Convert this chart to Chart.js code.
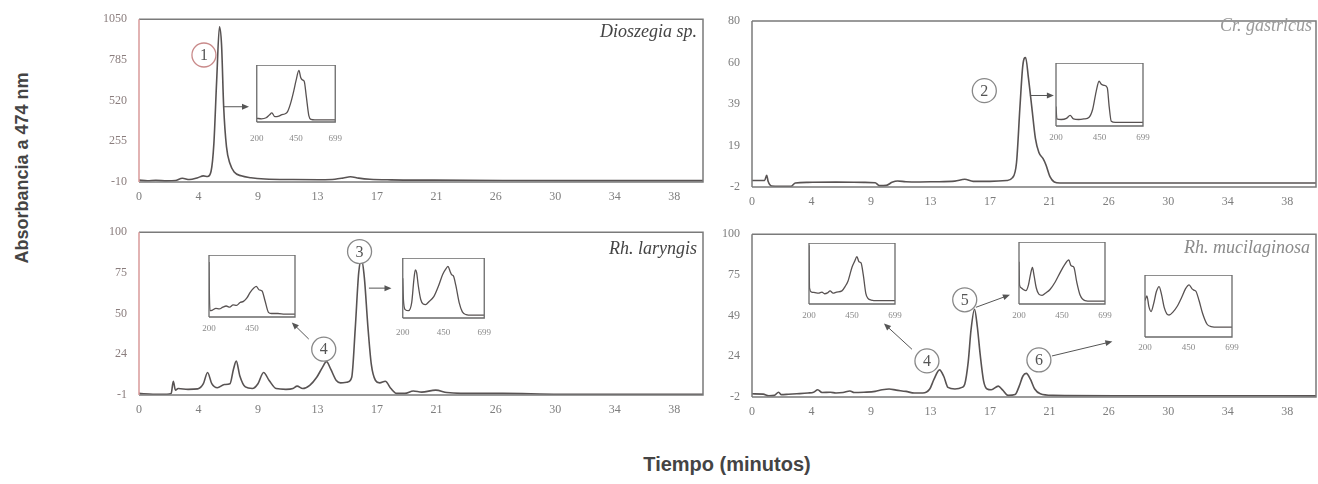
<!DOCTYPE html>
<html>
<head>
<meta charset="utf-8">
<script src="https://cdn.jsdelivr.net/npm/chart.js@4.4.1/dist/chart.umd.min.js"></script>
<style>
  html, body { margin: 0; padding: 0; background: #fff; }
  #fig { position: relative; width: 1318px; height: 484px; overflow: hidden; background: #fff; }
  #fig canvas { position: absolute; display: block; }
  .sp { position: absolute; font-family: "Liberation Serif", serif; font-style: italic; font-size: 18px; line-height: 18px; white-space: nowrap; }
  .ttl { position: absolute; font-family: "Liberation Sans", Arial, sans-serif; font-weight: bold; color: #444; white-space: nowrap; text-align: center; }
</style>
</head>
<body>
<div id="fig">
  <canvas id="p1" width="626" height="215" style="left:84px;top:0px"></canvas>
  <canvas id="p2" width="621" height="220" style="left:697px;top:0px"></canvas>
  <canvas id="p3" width="626" height="215" style="left:84px;top:213px"></canvas>
  <canvas id="p4" width="621" height="215" style="left:697px;top:215px"></canvas>

  <div class="sp" style="right:621px;top:22px;color:#444">Dioszegia sp.</div>
  <div class="sp" style="right:6px;top:16px;color:#9a9a9a">Cr. gastricus</div>
  <div class="sp" style="right:621px;top:239px;color:#444">Rh. laryngis</div>
  <div class="sp" style="right:8px;top:238px;color:#8a8a8a">Rh. mucilaginosa</div>

  <div class="ttl" style="left:-108px;top:158px;width:260px;height:20px;font-size:18px;line-height:20px;transform:rotate(-90deg)">Absorbancia a 474 nm</div>
  <div class="ttl" style="left:577px;top:452px;width:300px;font-size:20px;line-height:24px">Tiempo (minutos)</div>
</div>

<script>
// ---- time axis (minutes) ----
const X_MAX = 40.3;
const timeTicks = [0, 4.25, 8.5, 12.75, 17, 21.25, 25.5, 29.75, 34, 38.25];
const timeTickLabels = ['0', '4', '9', '13', '17', '21', '26', '30', '34', '38'];

// ---- Dioszegia sp. ----
const dioTime = [0,0.6,1.2,2,2.6,3.1,3.6,4.2,4.6,4.9,5.15,5.35,5.55,5.75,5.9,6.05,6.25,6.5,6.8,7.3,8,9,11,13,14,14.6,15.1,15.7,16.5,18,21,26,32,40.3];
const dioAbs  = [2,-2,1,-3,0,14,6,18,30,26,60,240,650,1000,880,480,220,110,55,30,18,10,6,5,8,16,24,15,8,4,2,0,-1,-1];
const dioYTicks = [-10, 255, 520, 785, 1050];
const dioYLabels = ['-10', '255', '520', '785', '1050'];
const dioCircles = [['1', 4.64, 817]];
const dioArrows = [[6.05, 480, 7.86, 480]];

// ---- Cr. gastricus ----
const cryTime = [0,0.9,1.05,1.15,1.4,2,2.8,3.1,4,6,8,8.8,9.1,9.6,10,10.4,11,12,13,14.5,15.2,15.8,17,18.2,18.6,18.9,19.15,19.35,19.55,19.75,20,20.25,20.5,20.8,21,21.3,21.6,22,26,32,40.3];
const cryAbs  = [1.2,1.2,3.8,0.8,-1.5,-1.6,-1.6,0,0.3,0.4,0.3,0.1,-1.3,-1.2,0.3,1,0.6,0.5,0.6,0.9,1.8,0.8,0.8,1.2,2.5,10,38,58,62,52,37,22,15,12,9,3,0.5,0,0,0,0];
const cryYTicks = [-2, 18.5, 39, 59.5, 80];
const cryYLabels = ['-2', '19', '39', '60', '80'];
const cryCircles = [['2', 16.6, 45.6]];
const cryArrows = [[19.86, 43.2, 21.57, 43.2]];

// ---- Rh. laryngis ----
const larTime = [0,1,2,2.3,2.45,2.6,2.8,3.5,4.2,4.6,4.9,5.2,5.6,6.1,6.5,6.75,6.95,7.2,7.6,8.1,8.5,8.9,9.3,9.8,10.5,11,11.3,11.7,12.2,12.7,13.1,13.4,13.7,14.1,14.4,14.9,15.2,15.45,15.7,15.9,16.1,16.35,16.6,16.9,17.2,17.6,18,18.4,19,19.6,20.2,21.2,22,23,26,30,34,40.3];
const larAbs  = [0,-0.5,-0.5,0,7.5,2,3,2.5,2.8,6,13,6,3.5,5.5,6,15,20,11,4,3,6,13,8,3,2.5,3,4.5,3,5,10,16,19.7,15,8,6.5,7,10,40,75,83,72,42,18,8,6.5,7.5,3,0,0,1.5,0.8,2,0.5,0,0,-0.5,-0.5,-0.5];
const larYTicks = [-1, 24.25, 49.5, 74.75, 100];
const larYLabels = ['-1', '24', '50', '75', '100'];
const larCircles = [['3', 15.76, 88], ['4', 13.2, 27.4]];
const larArrows = [[12.13, 33.7, 10.92, 44], [16.43, 65.3, 18.04, 65.3]];

// ---- Rh. mucilaginosa ----
const mucTime = [0,0.8,1.2,1.6,1.9,2.1,2.6,3.2,4,4.4,4.7,5,5.6,6,6.5,7,7.3,8,8.8,9.3,9.8,10.3,11,11.6,12.2,12.7,13,13.4,13.7,14,14.5,15,15.2,15.45,15.65,15.9,16.1,16.3,16.55,16.8,17.1,17.6,17.9,18.3,18.8,19.1,19.35,19.6,19.9,20.2,20.6,21.5,26,32,40.3];
const mucAbs  = [0,-0.2,-1.2,-1,1,-0.5,-0.3,0,0.5,1,2.5,0.8,1,0.5,0.8,1.8,0.8,1,1.5,2.5,3,2.3,1.5,0.5,0.5,3,9,15,11,4,3,4,6,20,40,53,42,25,8,3,2.5,4.8,2.5,-1,-0.5,5,11,12.8,9,3,0,-1,-1.2,-1.2,-1.3];
const mucYTicks = [-2, 23.5, 49, 74.5, 100];
const mucYLabels = ['-2', '24', '49', '75', '100'];
const mucCircles = [['4', 12.5, 20.6], ['5', 15.2, 58.9], ['6', 20.5, 21.2]];
const mucArrows = [[11.43, 27.9, 9.43, 44], [16.0, 54.2, 18.43, 62], [21.43, 23.7, 25.75, 32.8]];

// ---- UV-vis spectra in the insets (nm, relative absorbance) ----
const specTicks = [200, 450, 699];
const spec1Wl = [200,230,260,280,296,315,340,360,377,395,416,435,450,468,480,490,502,515,531,545,570,620,699];
const spec1Ab = [4,3,5,10,14,7,8,11,12,16,33,55,75,94,80,76,73,45,9,2,1,1,1];
const spec2Wl = [200,205,230,260,281,300,330,360,390,410,430,447,460,475,494,505,517,540,600,699];
const spec2Ab = [30,9,8,10,15,9,8,9,12,25,55,73,68,66,62,30,5,3,3,3];
const spec3aWl = [200,202,206,220,240,260,280,300,320,340,360,380,400,420,440,460,474,490,508,525,545,562,600,640,699];
const spec3aAb = [92,40,8,9,12,11,14,16,14,18,17,22,24,30,40,47,50,44,42,25,5,3,3,2,2];
const spec3bWl = [200,204,215,235,255,268,277,285,295,310,325,340,360,390,420,445,465,477,490,500,510,525,545,565,588,620,699];
const spec3bAb = [68,30,12,10,25,65,83,78,55,30,22,21,26,35,55,75,85,89,80,74,72,55,25,8,3,2,2];
const spec4aWl = [200,203,215,235,255,275,290,310,322,340,360,391,410,426,450,465,478,490,502,515,530,542,560,600,699];
const spec4aAb = [100,25,18,17,16,18,15,17,20,16,18,20,28,37,62,72,80,71,69,48,15,7,4,3,3];
const spec4bWl = [200,203,212,225,240,255,268,278,288,300,315,334,355,380,410,440,465,489,500,510,519,535,555,583,620,699];
const spec4bAb = [70,30,25,22,20,30,50,60,45,25,14,12,16,22,35,52,65,73,64,62,60,35,12,3,2,2];
const spec4cWl = [200,211,222,235,250,265,281,295,310,325,338,360,385,410,432,453,470,480,492,510,530,556,579,620,699];
const spec4cAb = [60,68,50,41,55,75,84,70,48,37,35,40,50,65,80,87,80,78,76,60,38,19,15,14,14];

const SERIF = '"Liberation Serif", "Times New Roman", serif';
const TRACE = '#585353';
const TICK = '#7d7d7d';

// frame around the plot area (left edge tinted on the left panels, like the scan)
const framePlugin = {
  id: 'frame',
  afterDraw(chart, args, o) {
    const { ctx, chartArea: { left, top, right, bottom } } = chart;
    ctx.save();
    ctx.lineWidth = o.width || 1.5;
    ctx.strokeStyle = o.color || '#777';
    ctx.beginPath();
    ctx.moveTo(left, top); ctx.lineTo(right, top); ctx.lineTo(right, bottom); ctx.lineTo(left, bottom);
    ctx.stroke();
    ctx.strokeStyle = o.leftColor || o.color || '#777';
    ctx.beginPath(); ctx.moveTo(left, top); ctx.lineTo(left, bottom); ctx.stroke();
    ctx.restore();
  }
};

// circled peak numbers and arrows, placed in data coordinates
const notesPlugin = {
  id: 'notes',
  afterDatasetsDraw(chart, args, o) {
    const { ctx, scales: { x, y } } = chart;
    ctx.save();
    ctx.strokeStyle = '#555';
    ctx.fillStyle = '#555';
    ctx.lineWidth = 1;
    (o.arrows || []).forEach(a => {
      const x0 = x.getPixelForValue(a[0]), y0 = y.getPixelForValue(a[1]);
      const x1 = x.getPixelForValue(a[2]), y1 = y.getPixelForValue(a[3]);
      const ang = Math.atan2(y1 - y0, x1 - x0);
      ctx.beginPath(); ctx.moveTo(x0, y0); ctx.lineTo(x1 - 4 * Math.cos(ang), y1 - 4 * Math.sin(ang)); ctx.stroke();
      ctx.beginPath();
      ctx.moveTo(x1, y1);
      ctx.lineTo(x1 - 7 * Math.cos(ang) + 3 * Math.sin(ang), y1 - 7 * Math.sin(ang) - 3 * Math.cos(ang));
      ctx.lineTo(x1 - 7 * Math.cos(ang) - 3 * Math.sin(ang), y1 - 7 * Math.sin(ang) + 3 * Math.cos(ang));
      ctx.closePath(); ctx.fill();
    });
    (o.circles || []).forEach(c => {
      const cx = x.getPixelForValue(c[1]), cy = y.getPixelForValue(c[2]);
      ctx.beginPath(); ctx.arc(cx, cy, 12, 0, Math.PI * 2);
      ctx.fillStyle = '#fff'; ctx.fill();
      ctx.strokeStyle = o.ring || '#888'; ctx.lineWidth = 1.3; ctx.stroke();
      ctx.fillStyle = '#555';
      ctx.font = '16px ' + SERIF;
      ctx.textAlign = 'center'; ctx.textBaseline = 'middle';
      ctx.fillText(c[0], cx, cy + 1);
    });
    ctx.restore();
  }
};

function buildPanel(id, time, abs, yTicks, yLabels, lay, notes) {
  return new Chart(document.getElementById(id), {
    type: 'line',
    data: {
      datasets: [{
        data: time.map((t, i) => ({ x: t, y: abs[i] })),
        borderColor: TRACE, borderWidth: 1.6, pointRadius: 0,
        cubicInterpolationMode: 'monotone', fill: false
      }]
    },
    options: {
      responsive: false, animation: false, events: [],
      layout: { padding: { top: lay.padTop, right: lay.padRight, left: 0, bottom: 0 } },
      plugins: {
        legend: { display: false }, tooltip: { enabled: false },
        frame: { color: '#7a7a7a', leftColor: lay.leftColor, width: 1.5 },
        notes: notes
      },
      scales: {
        x: {
          type: 'linear', min: 0, max: X_MAX,
          grid: { display: false, drawTicks: false }, border: { display: false },
          afterBuildTicks: s => { s.ticks = timeTicks.map(v => ({ value: v })); },
          afterFit: s => { s.height = lay.xH; },
          ticks: { padding: 8, color: TICK, autoSkip: false, maxRotation: 0,
                   font: { family: SERIF, size: 12 }, callback: (v, i) => timeTickLabels[i] }
        },
        y: {
          type: 'linear', min: yTicks[0], max: yTicks[yTicks.length - 1],
          grid: { display: false, drawTicks: false }, border: { display: false },
          afterBuildTicks: s => { s.ticks = yTicks.map(v => ({ value: v })); },
          afterFit: s => { s.width = 55; },
          ticks: { padding: 12, color: lay.yColor || TICK, autoSkip: false,
                   font: { family: SERIF, size: 12 }, callback: (v, i) => yLabels[i] }
        }
      }
    },
    plugins: [framePlugin, notesPlugin]
  });
}

buildPanel('p1', dioTime, dioAbs, dioYTicks, dioYLabels,
  { padTop: 15, padRight: 7, xH: 33, leftColor: '#d99a9a', yColor: '#8a7d7d' },
  { circles: dioCircles, arrows: dioArrows, ring: '#c98a8a' });
buildPanel('p2', cryTime, cryAbs, cryYTicks, cryYLabels,
  { padTop: 21, padRight: 2, xH: 33 },
  { circles: cryCircles, arrows: cryArrows });
buildPanel('p3', larTime, larAbs, larYTicks, larYLabels,
  { padTop: 15, padRight: 7, xH: 33, leftColor: '#d99a9a', yColor: '#8a7d7d' },
  { circles: larCircles, arrows: larArrows });
buildPanel('p4', mucTime, mucAbs, mucYTicks, mucYLabels,
  { padTop: 15, padRight: 2, xH: 33 },
  { circles: mucCircles, arrows: mucArrows });

// ---- insets: small spectra charts on top of the chromatograms ----
const insets = [
  { box: [253, 65, 86, 57], gap: 16, wl: spec1Wl, ab: spec1Ab, labels: ['200', '450', '699'] },
  { box: [1056, 63, 87, 63], gap: 11, wl: spec2Wl, ab: spec2Ab, labels: ['200', '450', '699'] },
  { box: [209, 255, 86, 62], gap: 11, wl: spec3aWl, ab: spec3aAb, labels: ['200', '450', ''] },
  { box: [401, 258, 85, 60], gap: 14, wl: spec3bWl, ab: spec3bAb, labels: ['200', '450', '699'] },
  { box: [809, 243, 86, 61], gap: 11, wl: spec4aWl, ab: spec4aAb, labels: ['200', '450', '699'] },
  { box: [1019, 242, 86, 62], gap: 11, wl: spec4bWl, ab: spec4bAb, labels: ['200', '450', '699'] },
  { box: [1145, 275, 87, 62], gap: 10, wl: spec4cWl, ab: spec4cAb, labels: ['200', '450', '699'] }
];

const fig = document.getElementById('fig');
insets.forEach(ins => {
  const [bx, by, bw, bh] = ins.box;
  const side = 14, below = 26;
  const cv = document.createElement('canvas');
  cv.width = bw + 2 * side;
  cv.height = bh + below;
  cv.style.left = (bx - side) + 'px';
  cv.style.top = by + 'px';
  fig.appendChild(cv);
  new Chart(cv, {
    type: 'line',
    data: {
      datasets: [{
        data: ins.wl.map((w, i) => ({ x: w, y: ins.ab[i] })),
        borderColor: '#585252', borderWidth: 1.3, pointRadius: 0,
        cubicInterpolationMode: 'monotone', fill: false
      }]
    },
    options: {
      responsive: false, animation: false, events: [],
      layout: { padding: { left: side, right: side, top: 0, bottom: 0 } },
      plugins: { legend: { display: false }, tooltip: { enabled: false },
                 frame: { color: '#6a6a6a', width: 1.3 } },
      scales: {
        x: {
          type: 'linear', min: 200, max: 699,
          grid: { display: false, drawTicks: false }, border: { display: false },
          afterBuildTicks: s => { s.ticks = specTicks.map(v => ({ value: v })); },
          afterFit: s => { s.height = below; },
          ticks: { padding: ins.gap - 5, color: '#8a8a8a', autoSkip: false, maxRotation: 0,
                   font: { family: SERIF, size: 9 }, callback: (v, i) => ins.labels[i] }
        },
        y: { display: false, min: -3, max: 104 }
      }
    },
    plugins: [framePlugin]
  });
});
</script>
</body>
</html>
